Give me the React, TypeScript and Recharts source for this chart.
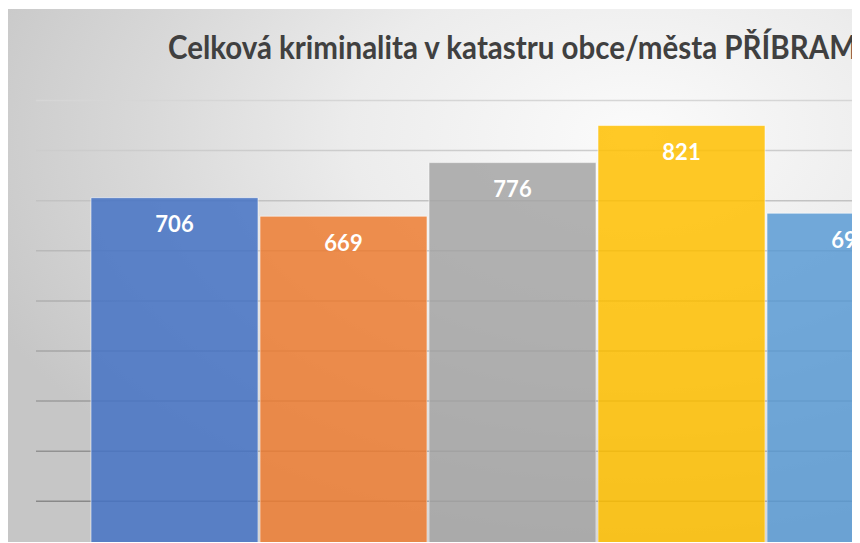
import { Bar, BarChart, CartesianGrid, XAxis, YAxis } from 'recharts'

// one category, five series (bars drawn side by side like the Excel original)
const categories = ['PŘÍBRAM']
const seriesKeys = ['s1', 's2', 's3', 's4', 's5']
const seriesValues = [706, 669, 776, 850, 675] // heights as read against the 100-step grid
const seriesLabels = ['706', '669', '776', '821', '690'] // numbers printed on the bars
const seriesColors = ['#4472C4', '#ED7D31', '#A5A5A5', '#FFC000', '#5B9BD5']
const yTicks = [0, 100, 200, 300, 400, 500, 600, 700, 800, 900]

const data = categories.map((name) => {
  const row: Record<string, string | number> = { name }
  seriesKeys.forEach((k, i) => {
    row[k] = seriesValues[i]
  })
  return row
})

const CHART_W = 1010
const CHART_H = 580

export default function App() {
  return (
    <div
      style={{
        position: 'relative',
        left: -1,
        top: 1,
        width: 853,
        height: 534,
        overflow: 'hidden',
        fontFamily: 'Lato, sans-serif',
      }}
    >
      <svg width={0} height={0} style={{ position: 'absolute' }}>
        <defs>
          <linearGradient id="gridFade" gradientUnits="userSpaceOnUse" x1={0} y1={91} x2={0} y2={542}>
            <stop offset="0%" stopColor="#d6d6d6" />
            <stop offset="100%" stopColor="#7f7f7f" />
          </linearGradient>
        </defs>
      </svg>
      <div
        style={{
          position: 'absolute',
          left: 0,
          top: 0,
          width: CHART_W,
          height: CHART_H,
          background:
            'radial-gradient(ellipse 70% 75% at 62% 22%, #fbfbfb 0%, #ececec 40%, #d8d8d8 70%, #c6c6c6 100%)',
        }}
      >
        <BarChart
          width={CHART_W}
          height={CHART_H}
          data={data}
          margin={{ top: 91.5, right: 26, left: 29, bottom: 37.6 }}
          barCategoryGap={55}
          barGap={2}
        >
          <CartesianGrid vertical={false} stroke="url(#gridFade)" strokeWidth={1.5} />
          <XAxis dataKey="name" hide />
          <YAxis hide domain={[0, 900]} ticks={yTicks} />
          {seriesKeys.map((k, i) => (
            <Bar
              key={k}
              dataKey={k}
              fill={seriesColors[i]}
              fillOpacity={0.85}
              stroke="#ffffff"
              strokeOpacity={0.55}
              strokeWidth={1}
              isAnimationActive={false}
              label={{
                position: 'insideTop',
                offset: 19,
                fill: '#ffffff',
                fontSize: 22,
                fontWeight: 700,
                fontFamily: 'Lato, sans-serif',
                formatter: () => seriesLabels[i],
              }}
            />
          ))}
        </BarChart>
      </div>
      <svg width={853} height={80} style={{ position: 'absolute', left: 0, top: 0 }}>
        <text
          x={161}
          y={49.5}
          fontFamily="Lato, sans-serif"
          fontWeight={700}
          fontSize={32}
          fill="#404040"
          textLength={689}
          lengthAdjust="spacingAndGlyphs"
        >
          Celková kriminalita v katastru obce/města PŘÍBRAM
        </text>
      </svg>
    </div>
  )
}
